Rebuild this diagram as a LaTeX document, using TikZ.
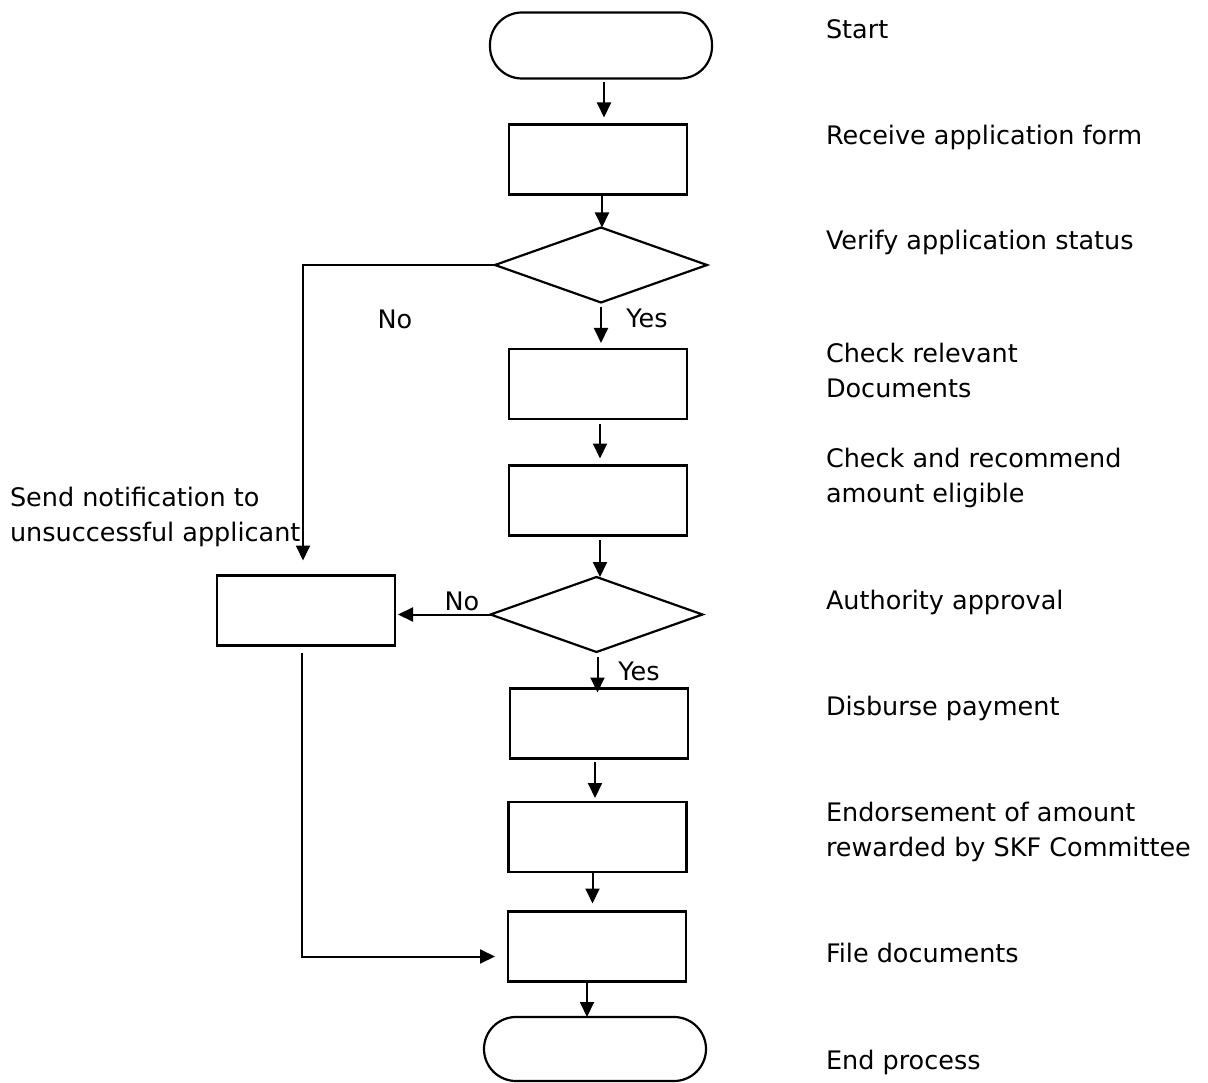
\documentclass[tikz,border=0pt]{standalone}
\usepackage{fontspec}
\setmainfont{DejaVu Sans}
\usetikzlibrary{arrows.meta,shapes.geometric}
\begin{document}
\begin{tikzpicture}[x=1pt,y=-1pt,
  every node/.style={inner sep=0pt,outer sep=0pt},
  box/.style={draw,line width=2.2pt,minimum width=178pt,minimum height=70pt},
  term/.style={draw,line width=2.2pt,rounded corners=32pt,minimum width=222pt,minimum height=66pt},
  dec/.style={draw,line width=2.2pt,diamond,aspect=2.84,minimum width=212pt,minimum height=75pt},
  arr/.style={line width=2pt,-{Triangle[length=15pt,width=14pt]}},
  lbl/.style={font=\fontsize{25.5}{35}\selectfont,anchor=base west,align=left},
  yn/.style={font=\fontsize{25.5}{35}\selectfont}]
\useasboundingbox (0,0) rectangle (1208,1083);
% shapes
\node[term] (start) at (601,45.5) {};
\node[box] (b1) at (598,159.5) {};
\node[dec] (d1) at (601,265) {};
\node[box] (b2) at (598,384) {};
\node[box] (b3) at (598,500.5) {};
\node[dec] (d2) at (596.5,614.5) {};
\node[box] (bl) at (306,610.5) {};
\node[box] (b4) at (599,723.5) {};
\node[box] (b5) at (597.5,837) {};
\node[box] (b6) at (597,946.5) {};
\node[term,minimum height=64pt] (end) at (595,1049) {};
% connectors
\draw[arr,shorten <=4pt,shorten >=7pt] ([xshift=3pt]start.south) -- ([xshift=3pt]start.south |- b1.north);
\draw[arr,shorten <=2pt] ([xshift=4pt]b1.south) -- ([xshift=4pt]b1.south |- d1.north);
\draw[arr,shorten <=5pt,shorten >=6pt] (d1.south) -- (d1.south |- b2.north);
\draw[arr,shorten >=15pt] (d1.west) -| ([xshift=-3pt]bl.north);
\draw[arr,shorten <=5pt,shorten >=7pt] ([xshift=2pt]b2.south) -- ([xshift=2pt]b2.south |- b3.north);
\draw[arr,shorten <=4pt] ([xshift=2pt]b3.south) -- ([xshift=2pt]b3.south |- d2.north);
\draw[arr,shorten >=3pt] (d2.west) -- (d2.west -| bl.east);
\draw[arr,shorten <=5pt,shorten >=-4pt] ([xshift=1pt]d2.south) -- ([xshift=1pt]d2.south |- b4.north);
\draw[arr,shorten <=3pt,shorten >=4pt] ([xshift=-4pt]b4.south) -- ([xshift=-4pt]b4.south |- b5.north);
\draw[arr,shorten >=8pt] ([xshift=-5pt]b5.south) -- ([xshift=-5pt]b5.south |- b6.north);
\draw[arr] ([xshift=-10pt]b6.south) -- ([xshift=-10pt]b6.south |- end.north);
\draw[arr,shorten <=7pt,shorten >=13pt] ([xshift=-4pt]bl.south) |- ([yshift=-10pt]b6.west);
% decision labels
\node[yn] (no1) at (395,319) {No};
\node[yn] (yes1) at (647,318) {Yes};
\node[yn] (no2) at (462,601) {No};
\node[yn] (yes2) at (639,671) {Yes};
% side labels
\node[lbl] (t1) at (826,39) {Start};
\node[lbl] (t2) at (826,145) {Receive application form};
\node[lbl] (t3) at (826,250) {Verify application status};
\node[lbl] (t4) at (826,397) {Check relevant\\Documents};
\node[lbl] (t5) at (826,502) {Check and recommend\\amount eligible};
\node[lbl] (t6) at (826,609) {Authority approval};
\node[lbl] (t7) at (826,715) {Disburse payment};
\node[lbl] (t8) at (826,856) {Endorsement of amount\\rewarded by SKF Committee};
\node[lbl] (t9) at (826,962) {File documents};
\node[lbl] (t10) at (826,1069) {End process};
\node[lbl] (tl) at (10,541) {Send notification to\\unsuccessful applicant};
\end{tikzpicture}
\end{document}
